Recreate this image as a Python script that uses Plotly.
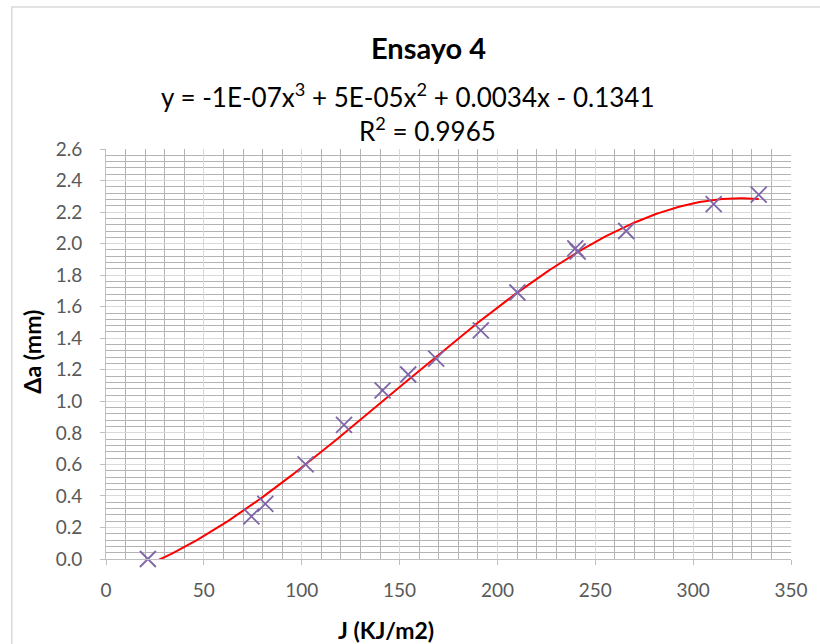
import numpy as np
import plotly.graph_objects as go

# Data
j_values = [21.4, 74.3, 81.4, 102.0, 121.6, 141.3, 154.4, 168.7, 191.5, 210.2, 239.8, 241.0, 265.8, 310.5, 333.5]
da_values = [0.00, 0.27, 0.35, 0.60, 0.85, 1.07, 1.17, 1.27, 1.45, 1.69, 1.97, 1.95, 2.08, 2.25, 2.31]

title_text = "Ensayo 4"
equation_text = "y = -1E-07x<sup>3</sup> + 5E-05x<sup>2</sup> + 0.0034x - 0.1341"
r2_text = "R<sup>2</sup> = 0.9965"
x_title = "J (KJ/m2)"
y_title = "Δa (mm)"

# Polynomial (order 3) trendline computed from the data, like Excel's trendline
coef = np.polyfit(j_values, da_values, 3)
x_fit = np.linspace(min(j_values), max(j_values), 300)
y_fit = np.polyval(coef, x_fit)

FONT = "Lato"

fig = go.Figure()
fig.add_trace(go.Scatter(
    x=x_fit, y=y_fit, mode="lines",
    line=dict(color="#ff0000", width=2),
    hoverinfo="skip", showlegend=False,
))
fig.add_trace(go.Scatter(
    x=j_values, y=da_values, mode="markers",
    marker=dict(symbol="x-thin", size=16, line=dict(color="#7f66a8", width=1.8), color="#7f66a8"),
    cliponaxis=False, showlegend=False,
))

W, H = 820, 644
L, R, T, B = 106, 23, 149, 85
pw, ph = W - L - R, H - T - B

def px2paper_x(px):
    return (px - L) / pw

def px2paper_y(py):
    return (H - B - py) / ph

fig.update_layout(
    width=W, height=H,
    margin=dict(l=L, r=R, t=T, b=B),
    paper_bgcolor="white", plot_bgcolor="white",
    font=dict(family=FONT, color="#595959"),
    xaxis=dict(
        range=[0, 350], dtick=50, tick0=0,
        showgrid=True, gridcolor="#d9d9d9", gridwidth=1,
        minor=dict(dtick=10, showgrid=True, gridcolor="#b3b3b3", gridwidth=1, ticks=""),
        showline=True, linecolor="#bfbfbf", linewidth=1,
        ticks="outside", ticklen=5, tickcolor="#bfbfbf",
        ticklabelstandoff=9,
        tickfont=dict(family=FONT, size=19, color="#595959"),
        zeroline=False,
    ),
    yaxis=dict(
        range=[0, 2.6], dtick=0.2, tick0=0, tickformat=".1f",
        showgrid=True, gridcolor="#d9d9d9", gridwidth=1,
        minor=dict(dtick=0.04, showgrid=True, gridcolor="#b3b3b3", gridwidth=1, ticks=""),
        showline=True, linecolor="#bfbfbf", linewidth=1,
        ticks="outside", ticklen=5, tickcolor="#bfbfbf",
        ticklabelstandoff=14,
        tickfont=dict(family=FONT, size=19, color="#595959"),
        zeroline=False,
    ),
    shapes=[dict(
        type="rect", xref="paper", yref="paper",
        x0=px2paper_x(11), x1=px2paper_x(840),
        y0=px2paper_y(680), y1=px2paper_y(7),
        line=dict(color="#d9d9d9", width=1.5), fillcolor="rgba(0,0,0,0)", layer="below",
    )],
    annotations=[
        dict(text="<b>" + title_text + "</b>", xref="paper", yref="paper",
             x=px2paper_x(431), y=px2paper_y(47), xanchor="center", yanchor="middle",
             showarrow=False, font=dict(family=FONT, size=29, color="#000000")),
        dict(text=equation_text, xref="paper", yref="paper",
             x=px2paper_x(410), y=px2paper_y(95), xanchor="center", yanchor="middle",
             showarrow=False, font=dict(family=FONT, size=26, color="#000000")),
        dict(text=r2_text, xref="paper", yref="paper",
             x=px2paper_x(430), y=px2paper_y(130), xanchor="center", yanchor="middle",
             showarrow=False, font=dict(family=FONT, size=26, color="#000000")),
        dict(text="<b>" + x_title + "</b>", xref="paper", yref="paper",
             x=px2paper_x(388), y=px2paper_y(630), xanchor="center", yanchor="middle",
             showarrow=False, font=dict(family=FONT, size=23, color="#000000")),
        dict(text="<b>" + y_title + "</b>", xref="paper", yref="paper",
             x=px2paper_x(31), y=px2paper_y(352), xanchor="center", yanchor="middle",
             textangle=-90,
             showarrow=False, font=dict(family=FONT, size=23, color="#000000")),
    ],
)

fig.write_html("out.html", config={"displayModeBar": False},
               post_script="document.body.style.margin='0';")
